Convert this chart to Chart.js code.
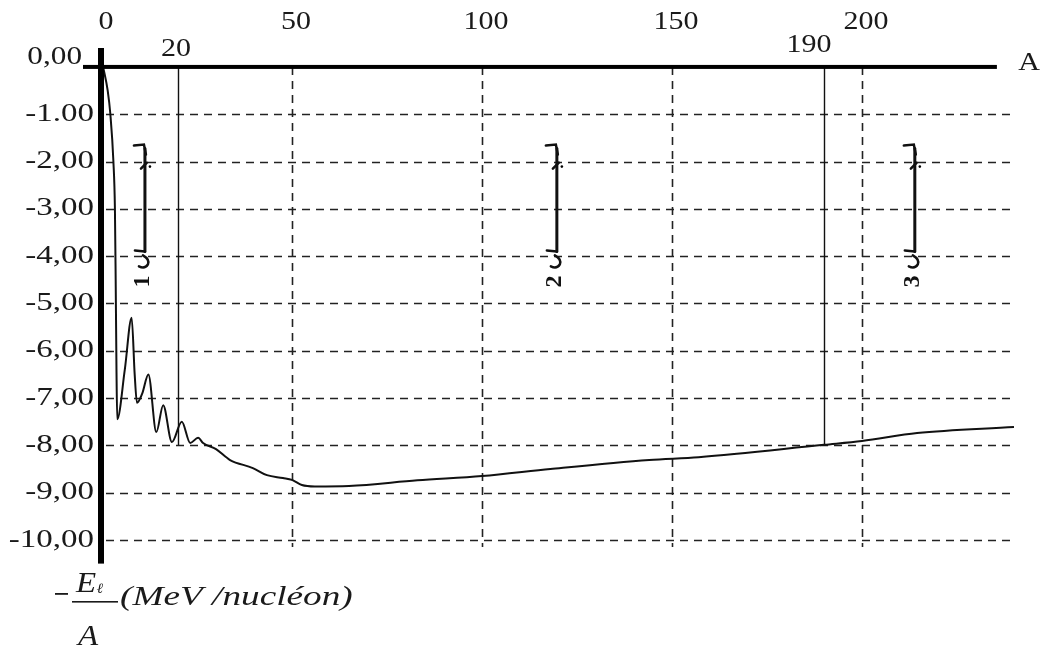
<!DOCTYPE html>
<html>
<head>
<meta charset="utf-8">
<script src="https://cdn.jsdelivr.net/npm/chart.js@4.4.0/dist/chart.umd.min.js"></script>
<style>
  html, body { margin: 0; padding: 0; background: #fff; }
  canvas { display: block; }
  .pre { font-family: "Liberation Serif"; position: absolute; left: -999px; }
</style>
</head>
<body>
<span class="pre">0,00 <i>MeV</i></span>
<canvas id="courbe" width="1042" height="653"></canvas>
<script>
// courbe d'Aston : -El/A en fonction de A
var massNumbers = [0.3, 1.5, 2.2, 3.0, 3.4, 3.6, 3.8, 4.0, 6.0, 7.8, 8.6, 9.2, 10.6, 12.2, 14.3, 16.1, 18.4, 21.0, 23.2, 25.3, 26.6, 30.0, 33.7, 39.7, 43.4, 47.6, 50.0, 52.6, 56.0, 65.0, 83.0, 100.0, 118.0, 144.0, 157.0, 190.0, 200.0, 214.5, 240.0];
var energies = [0.0, -0.5, -1.0, -2.0, -3.0, -4.5, -6.3, -7.45, -6.4, -5.3, -6.5, -7.1, -6.9, -6.5, -7.72, -7.15, -7.93, -7.5, -7.95, -7.84, -7.95, -8.08, -8.31, -8.48, -8.63, -8.69, -8.73, -8.84, -8.87, -8.86, -8.74, -8.65, -8.5, -8.31, -8.25, -7.99, -7.91, -7.74, -7.61];

var xTicks = [0, 50, 100, 150, 200];
var xMarks = [20, 190];
var markEnd = [-8.0, -8.0];
var yTicks = [0, -1, -2, -3, -4, -5, -6, -7, -8, -9, -10];
var yLabels = ['0,00', '-1.00', '-2,00', '-3,00', '-4,00', '-5,00', '-6,00', '-7,00', '-8,00', '-9,00', '-10,00'];
var zoneNames = ['1', '2', '3'];
var zoneA = [11.3, 119.7, 213.9];

var points = [];
for (let i in massNumbers) {
	points.push({x: massNumbers[i], y: energies[i]});
}

function txt(ctx, s, x, y, align, font, sx) {
	ctx.save();
	ctx.translate(x, y);
	ctx.scale(sx || 1.2, 1);
	ctx.font = font;
	ctx.textAlign = align;
	ctx.textBaseline = 'middle';
	ctx.fillStyle = '#1a1a1a';
	ctx.fillText(s, 0, 0);
	ctx.restore();
}

var decor = {
	id: 'decor',
	beforeDraw: function(chart) {
		var ctx = chart.ctx;
		ctx.save();
		ctx.fillStyle = '#fff';
		ctx.fillRect(0, 0, chart.width, chart.height);
		ctx.restore();
	},
	beforeDatasetsDraw: function(chart) {
		var ctx = chart.ctx, xs = chart.scales.x, ys = chart.scales.y;
		var y0 = ys.getPixelForValue(0);
		ctx.save();
		ctx.strokeStyle = '#222';
		ctx.lineWidth = 1.6;
		ctx.setLineDash([8, 6]);
		// horizontal dashed lines
		for (let i = 1; i < yTicks.length; i++) {
			var py = Math.round(ys.getPixelForValue(yTicks[i])) + 0.5;
			ctx.beginPath();
			ctx.moveTo(xs.getPixelForValue(0) + 4, py);
			ctx.lineTo(xs.getPixelForValue(240), py);
			ctx.stroke();
		}
		// vertical dashed lines
		for (let i = 1; i < xTicks.length; i++) {
			var px = Math.round(xs.getPixelForValue(xTicks[i])) + 0.5;
			ctx.beginPath();
			ctx.moveTo(px, y0);
			ctx.lineTo(px, ys.getPixelForValue(-10.15));
			ctx.stroke();
		}
		ctx.setLineDash([]);
		// solid markers A=20 and A=190
		ctx.lineWidth = 1.4;
		ctx.strokeStyle = '#111';
		for (let i in xMarks) {
			var mx = Math.round(xs.getPixelForValue(xMarks[i])) + 0.5;
			ctx.beginPath();
			ctx.moveTo(mx, y0);
			ctx.lineTo(mx, ys.getPixelForValue(markEnd[i]));
			ctx.stroke();
		}
		ctx.restore();
	},
	afterDatasetsDraw: function(chart) {
		var ctx = chart.ctx, xs = chart.scales.x, ys = chart.scales.y;
		var y0 = ys.getPixelForValue(0);
		var x0 = xs.getPixelForValue(0);
		ctx.save();
		ctx.fillStyle = '#000';
		// axe des A
		ctx.fillRect(x0 - 19, y0 - 2, xs.getPixelForValue(235.5) - x0 + 19, 4);
		// axe vertical epais
		ctx.fillRect(x0 - 4, chart.chartArea.top, 6, chart.chartArea.bottom - chart.chartArea.top);

		var f = '25px "Liberation Serif"';
		for (let i in xTicks) {
			txt(ctx, String(xTicks[i]), xs.getPixelForValue(xTicks[i]) + 4, 22, 'center', f);
		}
		txt(ctx, '20', xs.getPixelForValue(xMarks[0]) - 2, 49, 'center', f);
		txt(ctx, '190', xs.getPixelForValue(xMarks[1]) - 15, 45, 'center', f);
		txt(ctx, 'A', 1029, 63, 'center', f);

		txt(ctx, yLabels[0], 82, y0 - 9, 'right', f, 1.25);
		for (let i = 1; i < yTicks.length; i++) {
			txt(ctx, yLabels[i], 94, ys.getPixelForValue(yTicks[i]), 'right', f, 1.32);
		}

		// zones 1, 2, 3
		ctx.strokeStyle = '#111';
		ctx.lineCap = 'round';
		for (let i in zoneNames) {
			var zx = xs.getPixelForValue(zoneA[i]);
			var zt = ys.getPixelForValue(-1.6), zb = ys.getPixelForValue(-3.9);
			ctx.lineWidth = 3;
			ctx.beginPath();
			ctx.moveTo(zx, zt + 6);
			ctx.lineTo(zx, zb);
			ctx.stroke();
			ctx.lineWidth = 2.5;
			ctx.beginPath();
			ctx.moveTo(zx - 11, zt + 3);
			ctx.lineTo(zx - 1, zt + 2);
			ctx.lineTo(zx + 1, zt + 12);
			ctx.moveTo(zx - 4, zt + 26);
			ctx.lineTo(zx + 2, zt + 20);
			ctx.stroke();
			ctx.beginPath();
			ctx.arc(zx + 5, zt + 24, 1.3, 0, Math.PI * 2);
			ctx.fill();
			ctx.beginPath();
			ctx.moveTo(zx, zb);
			ctx.lineTo(zx - 10, zb - 1);
			ctx.moveTo(zx - 2, zb + 4);
			ctx.quadraticCurveTo(zx + 5, zb + 8, zx + 3, zb + 13);
			ctx.quadraticCurveTo(zx, zb + 18, zx - 6, zb + 15);
			ctx.stroke();
			ctx.save();
			ctx.translate(zx - 2, zb + 30);
			ctx.rotate(-Math.PI / 2);
			ctx.font = 'bold 24px "Liberation Serif"';
			ctx.textAlign = 'center';
			ctx.textBaseline = 'middle';
			ctx.fillStyle = '#111';
			ctx.fillText(zoneNames[i], 0, 0);
			ctx.restore();
		}

		// titre de l'axe vertical
		var fi = 'italic 27px "Liberation Serif"';
		ctx.fillStyle = '#1a1a1a';
		ctx.fillRect(55, 593, 13, 1.8);
		ctx.fillRect(72, 601, 46, 1.6);
		txt(ctx, 'E', 86, 584, 'center', 'italic 30px "Liberation Serif"', 1.1);
		txt(ctx, 'ℓ', 100, 589, 'center', 'italic 14px "Liberation Serif"', 1.1);
		txt(ctx, 'A', 88, 637, 'center', 'italic 30px "Liberation Serif"', 1.1);
		txt(ctx, '(MeV /nucléon)', 120, 598, 'left', fi, 1.38);
		ctx.restore();
	}
};

function draw() {
	var ctx = document.getElementById('courbe');
	new Chart(ctx, {
		type: 'line',
		data: {
			datasets: [
				{
					label: '-El/A',
					data: points,
					borderColor: '#111',
					borderWidth: 2,
					pointRadius: 0,
					fill: false,
					cubicInterpolationMode: 'monotone'
				}
			]
		},
		options: {
			responsive: false,
			animation: false,
			layout: { padding: { left: 102, right: 28, top: 48, bottom: 89.4 } },
			plugins: { legend: { display: false }, tooltip: { enabled: false } },
			scales: {
				x: { type: 'linear', min: 0, max: 240, display: false },
				y: { type: 'linear', min: -10.5, max: 0.4, display: false }
			}
		},
		plugins: [decor]
	});
}

Promise.all([
	document.fonts.load('25px "Liberation Serif"'),
	document.fonts.load('italic 26px "Liberation Serif"')
]).then(draw, draw);
</script>
</body>
</html>
